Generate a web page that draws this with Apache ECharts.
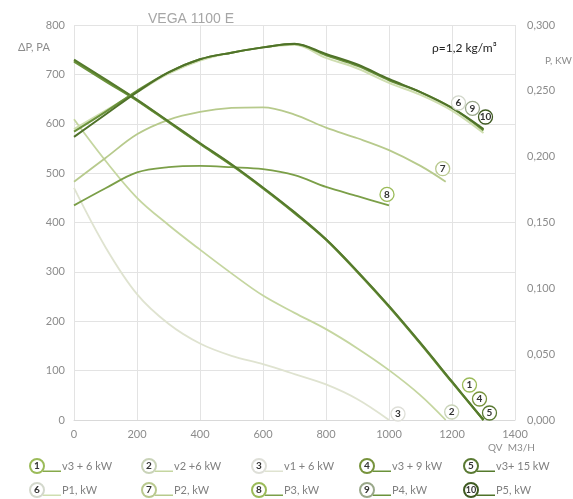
<!DOCTYPE html>
<html><head><meta charset="utf-8">
<script src="https://cdn.jsdelivr.net/npm/echarts@6/dist/echarts.min.js"></script>
<style>html,body{margin:0;padding:0;background:#fff}#c{width:573px;height:499px}</style>
</head><body><div id="c"></div>
<script>
// ---------- data ----------
const xTicks = [0, 200, 400, 600, 800, 1000, 1200, 1400];
const leftTicks = [0, 100, 200, 300, 400, 500, 600, 700, 800];
const rightTicks = ['0,000', '0,050', '0,100', '0,150', '0,200', '0,250', '0,300'];

const qMain = [0, 100, 200, 300, 400, 500, 600, 700, 800, 900, 1000, 1100, 1200, 1300];
const dpV3_6 = [728, 688, 648, 604, 560, 517, 470, 420, 366, 300, 230, 155, 77, 0];
const dpV3_9 = [726, 686, 647, 603, 559, 516, 469, 419, 365, 299, 229, 154, 76, 0];
const dpV3_15 = [730, 690, 649, 605, 561, 518, 471, 421, 366, 301, 231, 156, 78, 0];

const qV2 = [0, 100, 200, 300, 400, 500, 600, 700, 800, 900, 1000, 1100, 1180];
const dpV2_6 = [609, 525, 450, 395, 345, 297, 252, 217, 184, 145, 101, 50, 0];

const qV1 = [0, 100, 200, 300, 400, 500, 600, 700, 800, 900, 1000];
const dpV1_6 = [470, 350, 255, 195, 155, 130, 113, 93, 72, 42, 0];

const qP = [0, 100, 200, 300, 400, 500, 600, 700, 800, 900, 1000, 1100, 1200, 1300];
const pP1 = [0.221, 0.235, 0.249, 0.263, 0.273, 0.279, 0.283, 0.285, 0.275, 0.267, 0.256, 0.247, 0.235, 0.218];
const pP4 = [0.219, 0.234, 0.250, 0.264, 0.274, 0.279, 0.283, 0.2855, 0.277, 0.269, 0.258, 0.249, 0.237, 0.220];
const pP5 = [0.215, 0.232, 0.249, 0.264, 0.274, 0.279, 0.283, 0.2858, 0.278, 0.270, 0.259, 0.249, 0.237, 0.221];

const qP2 = [0, 100, 200, 300, 400, 500, 600, 700, 800, 900, 1000, 1100, 1180];
const pP2 = [0.181, 0.199, 0.217, 0.228, 0.234, 0.237, 0.2375, 0.232, 0.222, 0.214, 0.205, 0.193, 0.181];

const qP3 = [0, 100, 200, 300, 400, 500, 600, 700, 800, 900, 1000];
const pP3 = [0.163, 0.176, 0.188, 0.192, 0.193, 0.192, 0.1905, 0.186, 0.177, 0.170, 0.163];

const seriesNames = ['v3 + 6 kW', 'v2 +6 kW', 'v1 + 6 kW', 'v3 + 9 kW', 'v3+ 15 kW',
                     'P1, kW', 'P2, kW', 'P3, kW', 'P4, kW', 'P5, kW'];
const seriesNums = ['1', '2', '3', '4', '5', '6', '7', '8', '9', '10'];

// ---------- styles ----------
const FONT = 'Lato, "Open Sans", sans-serif';
const lineColors = ['#86a94a', '#c5d6a0', '#dfe3d0', '#6a923a', '#557a2c',
                    '#cfdeb0', '#b7ca8c', '#7b9f48', '#6a923a', '#4f7229'];
const circleColors = ['#9bbb59', '#c9d3b8', '#dedfd8', '#77933c', '#5a7a33',
                      '#d3d8cc', '#b9c98f', '#9bbb59', '#9aa88a', '#3f5a22'];
const markOffsets = [[-14, -35], [6, -8], [9, -6], [-4, -21], [6, -7],
                     [-25, -30], [-3, -13], [-2, -11], [-11, -22], [2, -12]];
const legendLefts = [26, 138, 248, 356, 460];
const legendTops = [458, 482];

function mk(i, qs, vals, yAxisIndex, width) {
  return {
    name: seriesNames[i], type: 'line', yAxisIndex,
    data: qs.map((q, k) => [q, vals[k]]),
    smooth: 0.35, symbol: 'none', silent: true,
    lineStyle: { color: lineColors[i], width },
    itemStyle: { color: lineColors[i] },
    markPoint: {
      symbol: 'circle', symbolSize: 14, symbolOffset: markOffsets[i], silent: true,
      itemStyle: { color: '#fff', borderColor: circleColors[i], borderWidth: 1.3 },
      label: { show: true, formatter: seriesNums[i], color: '#333', fontSize: 10, fontWeight: 'bold', fontFamily: FONT },
      data: [{ coord: [qs[qs.length - 1], vals[vals.length - 1]] }]
    }
  };
}

const rich = { t: { color: '#808080', fontSize: 11, fontFamily: FONT, padding: [0, 0, 0, 1] } };
seriesNames.forEach((n, i) => {
  rich['n' + i] = { width: 12, height: 12, lineHeight: 12, borderRadius: 8, borderWidth: 2,
    borderColor: circleColors[i], backgroundColor: '#fff', align: 'center', color: '#333',
    fontSize: i === 9 ? 9 : 10, fontWeight: 'bold', fontFamily: FONT };
  rich['l' + i] = { width: 18, height: 1.5, backgroundColor: lineColors[i], verticalAlign: 'bottom' };
});
function legendFmt(name) {
  const i = seriesNames.indexOf(name);
  return '{n' + i + '|' + seriesNums[i] + '}{l' + i + '| }{t|' + name + '}';
}
const legends = seriesNames.map((name, i) => ({
  top: legendTops[Math.floor(i / 5)], left: legendLefts[i % 5], data: [name],
  icon: 'none', itemWidth: 0, itemHeight: 14, padding: 0,
  selectedMode: false, formatter: legendFmt, textStyle: { rich }
}));

const chart = echarts.init(document.getElementById('c'), null, { renderer: 'canvas' });
chart.setOption({
  animation: false,
  backgroundColor: '#fff',
  grid: { left: 74, right: 58, top: 25, bottom: 79 },
  xAxis: {
    type: 'value', min: xTicks[0], max: xTicks[xTicks.length - 1], interval: xTicks[1] - xTicks[0],
    axisLine: { show: true, lineStyle: { color: '#d9d9d9' } }, axisTick: { show: false },
    axisLabel: { color: '#8c8c8c', fontSize: 11, fontFamily: FONT, margin: 9, formatter: (v) => String(v) },
    splitLine: { show: true, lineStyle: { color: '#e3e3e3' } }
  },
  yAxis: [{
    type: 'value', min: leftTicks[0], max: leftTicks[leftTicks.length - 1], interval: leftTicks[1] - leftTicks[0],
    axisLine: { show: false }, axisTick: { show: false },
    axisLabel: { color: '#8c8c8c', fontSize: 11, fontFamily: FONT, margin: 9, formatter: (v) => String(v) },
    splitLine: { show: true, lineStyle: { color: '#e3e3e3' } }
  }, {
    type: 'value', min: 0, max: 0.3, interval: 0.05, position: 'right',
    axisLine: { show: false }, axisTick: { show: false },
    axisLabel: { color: '#8c8c8c', fontSize: 11, fontFamily: FONT, margin: 12,
      formatter: (v) => rightTicks[Math.round(v / 0.05)] },
    splitLine: { show: false }
  }],
  legend: legends,
  graphic: [
    { type: 'text', left: 148, top: 12, style: { text: 'VEGA 1100 E', fill: '#a6a6a6', font: '14px "Liberation Sans", Arial, sans-serif' } },
    { type: 'text', left: 432, top: 42, style: { text: 'ρ=1,2 kg/m³', fill: '#222', font: '12px ' + FONT } },
    { type: 'text', left: 18, top: 42, style: { text: 'ΔP, PA', fill: '#8c8c8c', font: '11px ' + FONT } },
    { type: 'text', left: 545, top: 56, style: { text: 'P, KW', fill: '#8c8c8c', font: '10px ' + FONT } },
    { type: 'text', left: 488, top: 443, style: { text: 'QV  M3/H', fill: '#8c8c8c', font: '10px ' + FONT } }
  ],
  series: [
    mk(2, qV1, dpV1_6, 0, 1.8),
    mk(1, qV2, dpV2_6, 0, 1.8),
    mk(5, qP, pP1, 1, 2),
    mk(6, qP2, pP2, 1, 1.8),
    mk(7, qP3, pP3, 1, 1.8),
    mk(0, qMain, dpV3_6, 0, 2),
    mk(3, qMain, dpV3_9, 0, 2),
    mk(4, qMain, dpV3_15, 0, 2),
    mk(8, qP, pP4, 1, 2),
    mk(9, qP, pP5, 1, 2)
  ]
});
</script></body></html>
